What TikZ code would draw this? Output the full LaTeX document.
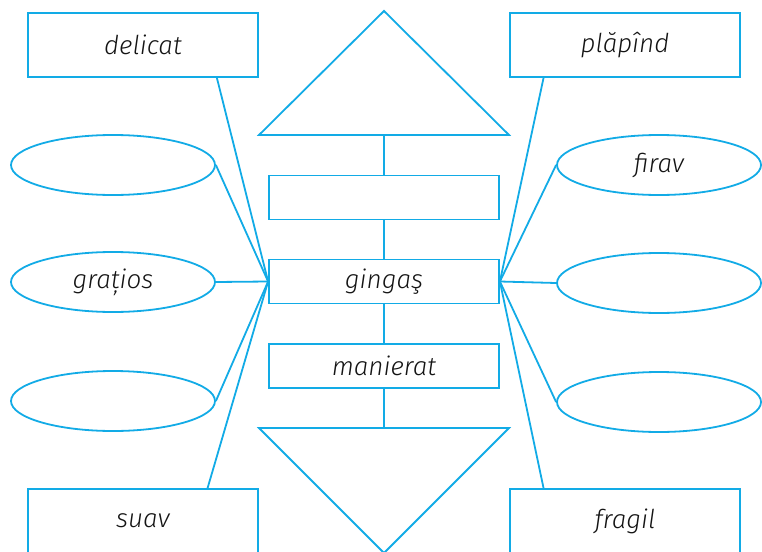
\documentclass[tikz,border=0pt]{standalone}
\usepackage{fontspec}
\setmainfont{Fira Sans Light}
\usepackage{xcolor}
\usetikzlibrary{shapes.geometric}
\definecolor{wCyan}{HTML}{12ABE6}
\tikzset{
  wLine/.style={draw=wCyan,line width=1.8pt,line join=miter},
  wBox/.style={wLine,rectangle,minimum width=230pt,inner sep=0pt,
        font=\fontsize{26}{30}\selectfont\itshape,text=black!92},
  wBig/.style={wBox,minimum height=64pt},
  wSmall/.style={wBox,minimum height=44pt},
  wOval/.style={wLine,ellipse,minimum width=204pt,minimum height=60pt,
        inner sep=0pt,font=\fontsize{26}{30}\selectfont\itshape,text=black!92},
}
\begin{document}
\begin{tikzpicture}[x=1pt,y=-1pt]
\useasboundingbox (0,0) rectangle (762,551);
% corner boxes
\node[wBig]   (d)  at (143,45)   {delicat};
\node[wBig]   (p)  at (625,45)   {plăpînd};
\node[wBig]   (s)  at (143,521)  {suav};
\node[wBig]   (f)  at (625,521)  {fragil};
% middle column
\draw[wLine] (259,135) -- (384,11) -- (509,135) -- cycle;
\coordinate (tt) at (384,135);
\node[wSmall] (e)  at (384,197.5) {};
\node[wSmall] (g)  at (384,281.5) {gingaş};
\node[wSmall] (m)  at (384,366)   {manierat};
\draw[wLine] (259,428) -- (384,553) -- (509,428) -- cycle;
\coordinate (tb) at (384,428);
% ovals
\node[wOval]  (l1) at (113,165)  {};
\node[wOval]  (l2) at (113,282)  {grațios};
\node[wOval]  (l3) at (113,401)  {};
\node[wOval]  (r1) at (659,165)  {firav};
\node[wOval]  (r2) at (659,283)  {};
\node[wOval]  (r3) at (659,402)  {};
\draw[wLine] (tt) -- (e);
\draw[wLine] (e) -- (g);
\draw[wLine] (g) -- (m);
\draw[wLine] (m) -- (tb);
\draw[wLine] (g.west) -- (d.-24);
\draw[wLine] (g.west) -- (l1.east);
\draw[wLine] (g.west) -- (l2.east);
\draw[wLine] (g.west) -- (l3.east);
\draw[wLine] (g.west) -- (s.27);
\draw[wLine] (g.east) -- (p.-158);
\draw[wLine] (g.east) -- (r1.west);
\draw[wLine] (g.east) -- (r2.west);
\draw[wLine] (g.east) -- (r3.west);
\draw[wLine] (g.east) -- (f.158);
\end{tikzpicture}
\end{document}
